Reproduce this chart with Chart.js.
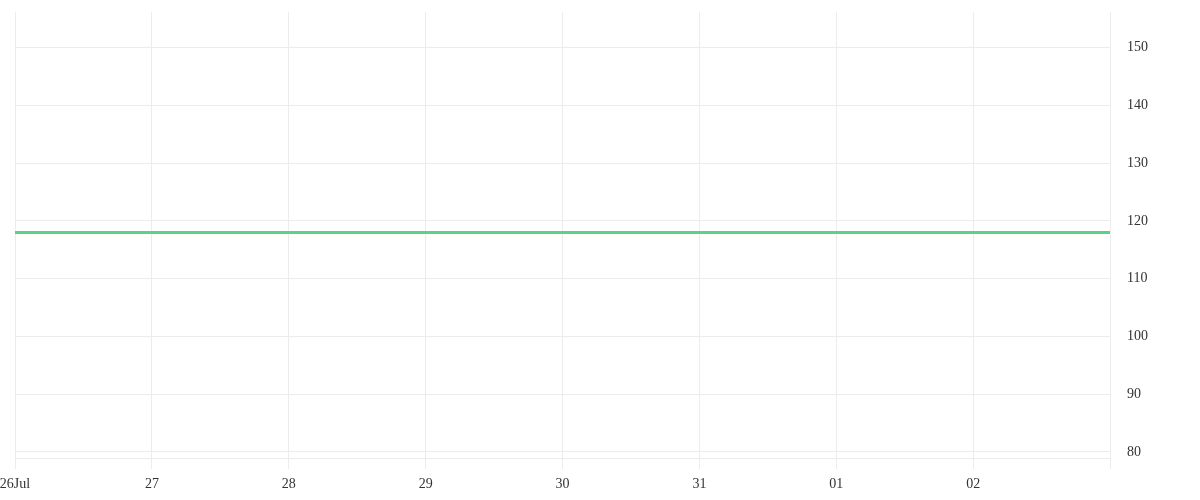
<!DOCTYPE html>
<html>
<head>
<meta charset="utf-8">
<script src="https://cdn.jsdelivr.net/npm/chart.js@4"></script>
<style>
html,body{margin:0;padding:0;background:#fff;overflow:hidden;}
#wrap{width:1200px;height:500px;overflow:hidden;}
#c{display:block;}
</style>
</head>
<body>
<div id="wrap"><canvas id="c" width="1200" height="500"></canvas></div>
<script>
const categories = ['26Jul','27','28','29','30','31','01','02',''];
const seriesValues = [118,118,118,118,118,118,118,118,118];
const yTicks = [80,90,100,110,120,130,140,150];

const ctx = document.getElementById('c');
new Chart(ctx, {
  type: 'line',
  data: {
    labels: categories,
    datasets: [{
      data: seriesValues,
      borderColor: '#5dd08a',
      borderWidth: 3,
      pointRadius: 0,
      fill: false,
      tension: 0
    }]
  },
  options: {
    responsive: false,
    animation: false,
    layout: { padding: { top: 12, left: 15, right: 0, bottom: 0 } },
    plugins: { legend: { display: false }, tooltip: { enabled: false } },
    scales: {
      x: {
        type: 'category',
        offset: false,
        border: { display: true, color: '#ececec', width: 1 },
        grid: { color: '#ececec', lineWidth: 1, drawTicks: true, tickLength: 11 },
        ticks: {
          color: '#333',
          font: { family: 'Liberation Serif', size: 14 },
          maxRotation: 0,
          autoSkip: false,
          padding: 7
        },
        afterFit(s) { s.height = 42; s.paddingLeft = 0; s.paddingRight = 0; }
      },
      y: {
        position: 'right',
        min: 78.95,
        max: 156.2,
        border: { display: false },
        grid: { color: '#ececec', lineWidth: 1, drawTicks: false },
        afterBuildTicks(s) { s.ticks = yTicks.map(v => ({ value: v })); },
        ticks: {
          color: '#333',
          font: { family: 'Liberation Serif', size: 14 },
          padding: 17,
          includeBounds: false
        },
        afterFit(s) { s.width = 90; s.paddingTop = 0; s.paddingBottom = 0; }
      }
    }
  }
});
</script>
</body>
</html>
